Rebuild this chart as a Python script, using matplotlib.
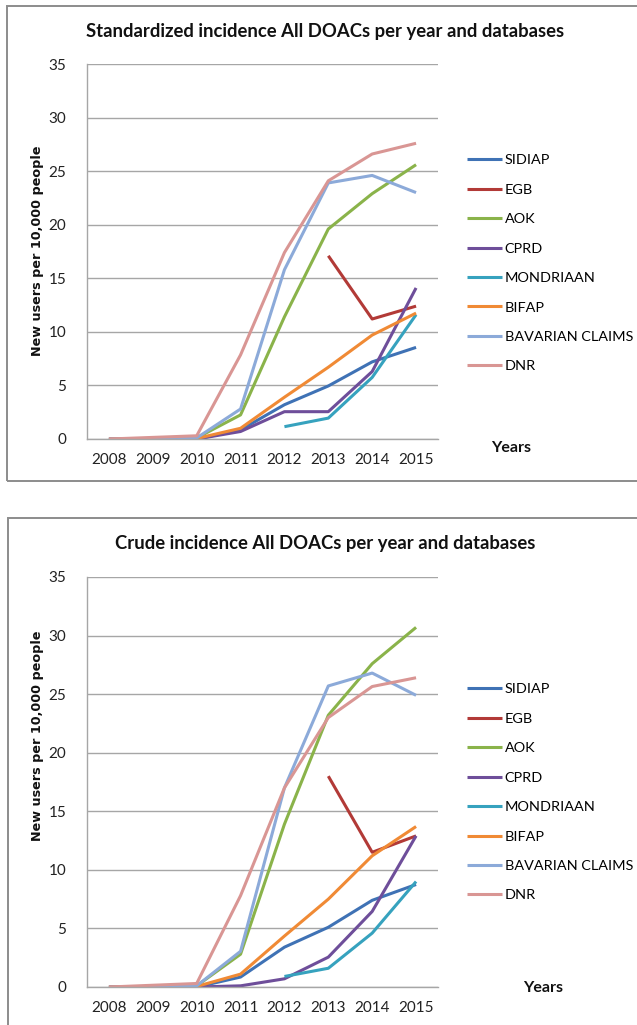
import matplotlib.pyplot as plt
from matplotlib.patches import Rectangle

plt.rcParams['font.family'] = ['Lato', 'DejaVu Sans']

years = [2008, 2009, 2010, 2011, 2012, 2013, 2014, 2015]
names = ['SIDIAP', 'EGB', 'AOK', 'CPRD', 'MONDRIAAN', 'BIFAP',
         'BAVARIAN CLAIMS', 'DNR']
colors = ['#3F72B5', '#B23A37', '#8AB34A', '#6E4E9A', '#36A2BE', '#F08A35',
          '#8CAAD9', '#D99694']

# standardized incidence (None = no data)
std_sidiap = [0, 0, 0, 0.85, 3.2, 4.95, 7.2, 8.55]
std_egb = [None, None, None, None, None, 17.1, 11.2, 12.4]
std_aok = [0, 0, 0.1, 2.25, 11.4, 19.6, 22.9, 25.6]
std_cprd = [0, 0, 0, 0.7, 2.55, 2.55, 6.3, 14.1]
std_mondriaan = [None, None, None, None, 1.15, 1.95, 5.75, 11.6]
std_bifap = [0, 0, 0.05, 1.0, 3.9, 6.7, 9.7, 11.75]
std_bavarian = [0, 0, 0.1, 2.8, 15.8, 23.9, 24.6, 23.0]
std_dnr = [0, 0.15, 0.3, 7.85, 17.4, 24.1, 26.6, 27.6]

# crude incidence
crude_sidiap = [0, 0, 0, 0.85, 3.4, 5.1, 7.4, 8.75]
crude_egb = [None, None, None, None, None, 18.0, 11.5, 12.9]
crude_aok = [0, 0, 0.1, 2.8, 13.9, 23.2, 27.6, 30.7]
crude_cprd = [0, 0, 0, 0.1, 0.7, 2.55, 6.45, 12.9]
crude_mondriaan = [None, None, None, None, 0.9, 1.6, 4.6, 9.0]
crude_bifap = [0, 0, 0.05, 1.1, 4.35, 7.5, 11.2, 13.7]
crude_bavarian = [0, 0, 0.1, 3.05, 17.0, 25.7, 26.8, 24.9]
crude_dnr = [0, 0.15, 0.3, 7.8, 17.0, 23.0, 25.65, 26.4]

std_all = [std_sidiap, std_egb, std_aok, std_cprd, std_mondriaan, std_bifap,
           std_bavarian, std_dnr]
crude_all = [crude_sidiap, crude_egb, crude_aok, crude_cprd, crude_mondriaan,
             crude_bifap, crude_bavarian, crude_dnr]

W, H = 637, 1025
fig = plt.figure(figsize=(W / 100, H / 100), dpi=100)


def fx(px):
    return px / W


def fy(py):
    return 1 - py / H


# outer frames
fig.add_artist(Rectangle((fx(7), fy(481)), fx(700), fy(6) - fy(481),
                         transform=fig.transFigure, fill=False,
                         edgecolor='#8c8c8c', lw=1.4))
fig.add_artist(Rectangle((fx(8), fy(1100)), fx(700), fy(518) - fy(1100),
                         transform=fig.transFigure, fill=False,
                         edgecolor='#8c8c8c', lw=1.4))


def draw(top, bottom, series, title, title_y, legend_y, years_xy, ylab_y):
    ax = fig.add_axes([fx(87), fy(bottom), fx(438) - fx(87), fy(top) - fy(bottom)])
    for vals, name, c in zip(series, names, colors):
        xs = [i for i, v in enumerate(vals) if v is not None]
        ys = [v for v in vals if v is not None]
        ax.plot(xs, ys, color=c, lw=2.2, label=name, solid_capstyle='butt')
    ax.set_xlim(-0.5, 7.5)
    ax.set_ylim(0, 35)
    ax.set_yticks(range(0, 36, 5))
    ax.set_xticks(range(8))
    ax.set_xticklabels(years)
    ax.tick_params(length=0, labelsize=11, colors='#222222', pad=10)
    ax.tick_params(axis='y', pad=15)
    ax.grid(axis='y', color='#a6a6a6', lw=1.0)
    ax.set_axisbelow(True)
    for s in ['top', 'right']:
        ax.spines[s].set_visible(False)
    for s in ['left', 'bottom']:
        ax.spines[s].set_color('#a6a6a6')
        ax.spines[s].set_linewidth(1.0)
    fig.text(fx(325), fy(title_y), title, ha='center', va='center',
             fontsize=13.3, fontweight='bold', color='#111111')
    fig.text(fx(38), fy(ylab_y), 'New users per 10,000 people', rotation=90,
             ha='center', va='center', fontsize=9.2, fontweight='bold',
             family='DejaVu Sans', color='#111111')
    fig.text(fx(years_xy[0]), fy(years_xy[1]), 'Years', ha='center',
             va='center', fontsize=11.5, fontweight='bold', color='#111111')
    ax.legend(loc='upper left', bbox_to_anchor=(fx(460), fy(legend_y)),
              bbox_transform=fig.transFigure, frameon=False, fontsize=10.4,
              handlelength=2.4, handletextpad=0.2, labelspacing=1.2,
              borderpad=0)
    return ax


draw(64, 439, std_all,
     'Standardized incidence All DOACs per year and databases',
     32, 147, (511, 448), 251)
draw(577, 987, crude_all,
     'Crude incidence All DOACs per year and databases',
     544, 676, (543, 988), 736)

fig.savefig('out.png', dpi=100)
